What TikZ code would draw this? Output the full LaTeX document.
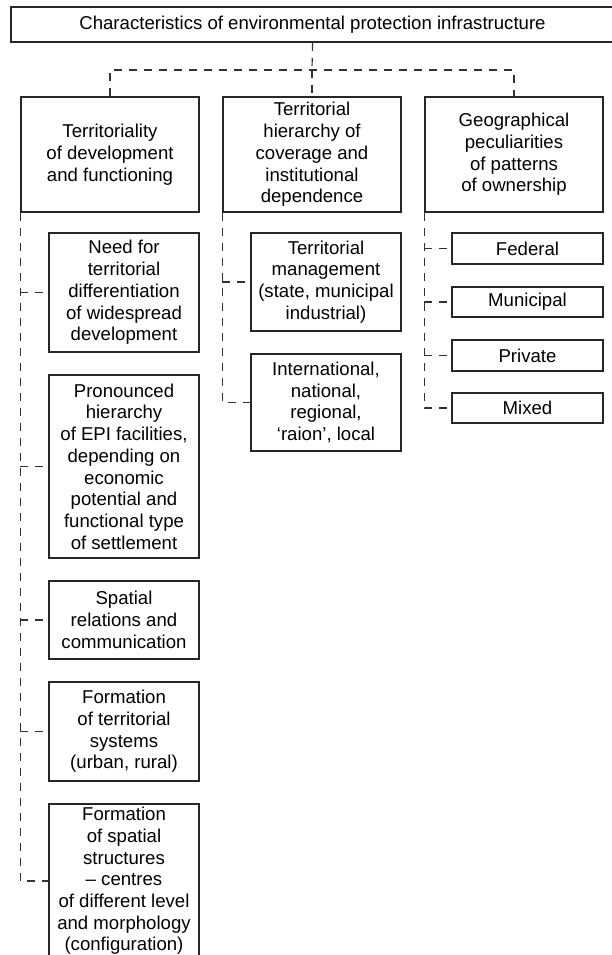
\documentclass[tikz,border=0pt]{standalone}
\usepackage{fontspec}
\setmainfont{Liberation Sans}
\usetikzlibrary{positioning}

\begin{document}
\begin{tikzpicture}[x=1pt, y=-1pt,
    every node/.style={font=\fontsize{18.6}{21.7}\selectfont},
    box/.style={draw=black!85, line width=1.6pt, align=center, inner sep=0pt},
    subbox/.style={box, minimum width=150pt},
    dashline/.style={draw=black!80, line width=1.2pt, dash pattern=on 8pt off 7pt}]
    \useasboundingbox (0,0) rectangle (612,955);
    \clip (0,0) rectangle (612,955);
    % top
    \node[box, minimum width=603pt, minimum height=35pt] (top) at (312.5,24.5)
        {Characteristics of environmental protection infrastructure};
    % second level
    \node[box, minimum width=178pt, minimum height=115pt] (terr) at (110,154.5)
        {Territoriality\\of development\\and functioning};
    \node[box, minimum width=178pt, minimum height=115pt] (hier) at (312,154.5)
        {Territorial\\hierarchy of\\coverage and\\institutional\\dependence};
    \node[box, minimum width=178pt, minimum height=115pt] (geo) at (514,154.5)
        {Geographical\\peculiarities\\of patterns\\of ownership};
    \coordinate (split) at (312,70);
    \draw[dashline] (top.south) -- (split);
    \draw[dashline] (terr.north) |- (split) -| (geo.north);
    \draw[dashline] (split) -- (hier.north);
    % first column
    \node[subbox, minimum height=119pt] (need) at (124,292.5)
        {Need for\\territorial\\differentiation\\of widespread\\development};
    \node[subbox, minimum height=183pt] (pron) at (124,466.5)
        {Pronounced\\hierarchy\\of EPI facilities,\\depending on\\economic\\potential and\\functional type\\of settlement};
    \node[subbox, minimum height=78pt] (spat) at (124,620)
        {Spatial\\relations and\\communication};
    \node[subbox, minimum height=99pt] (form) at (124,731.5)
        {Formation\\of territorial\\systems\\(urban, rural)};
    \node[subbox, minimum height=154pt] (struct) at (124,881)
        {Formation\\of spatial\\structures\\– centres\\of different level\\and morphology\\(configuration)};
    \draw[dashline] (terr.south west) |- (struct.west);
    \foreach \n in {need,pron,spat,form}
        \draw[dashline] (terr.south west |- \n.west) -- (\n.west);
    % second column
    \node[subbox, minimum height=98pt] (mgmt) at (326,282)
        {Territorial\\management\\(state, municipal\\industrial)};
    \node[subbox, minimum height=97pt] (intl) at (326,402.5)
        {International,\\national,\\regional,\\‘raion’, local};
    \draw[dashline] (hier.south west) |- (intl.west);
    \draw[dashline] (hier.south west |- mgmt.west) -- (mgmt.west);
    % third column
    \node[subbox, minimum width=151pt, minimum height=31pt] (fed) at (527.5,248.5) {Federal};
    \node[subbox, minimum width=151pt, minimum height=30pt] (mun) at (527.5,302) {Municipal};
    \node[subbox, minimum width=151pt, minimum height=31pt] (priv) at (527.5,355.5) {Private};
    \node[subbox, minimum width=151pt, minimum height=30pt] (mix) at (527.5,408) {Mixed};
    \draw[dashline] (geo.south west) |- (mix.west);
    \foreach \n in {fed,mun,priv}
        \draw[dashline] (geo.south west |- \n.west) -- (\n.west);
\end{tikzpicture}
\end{document}
